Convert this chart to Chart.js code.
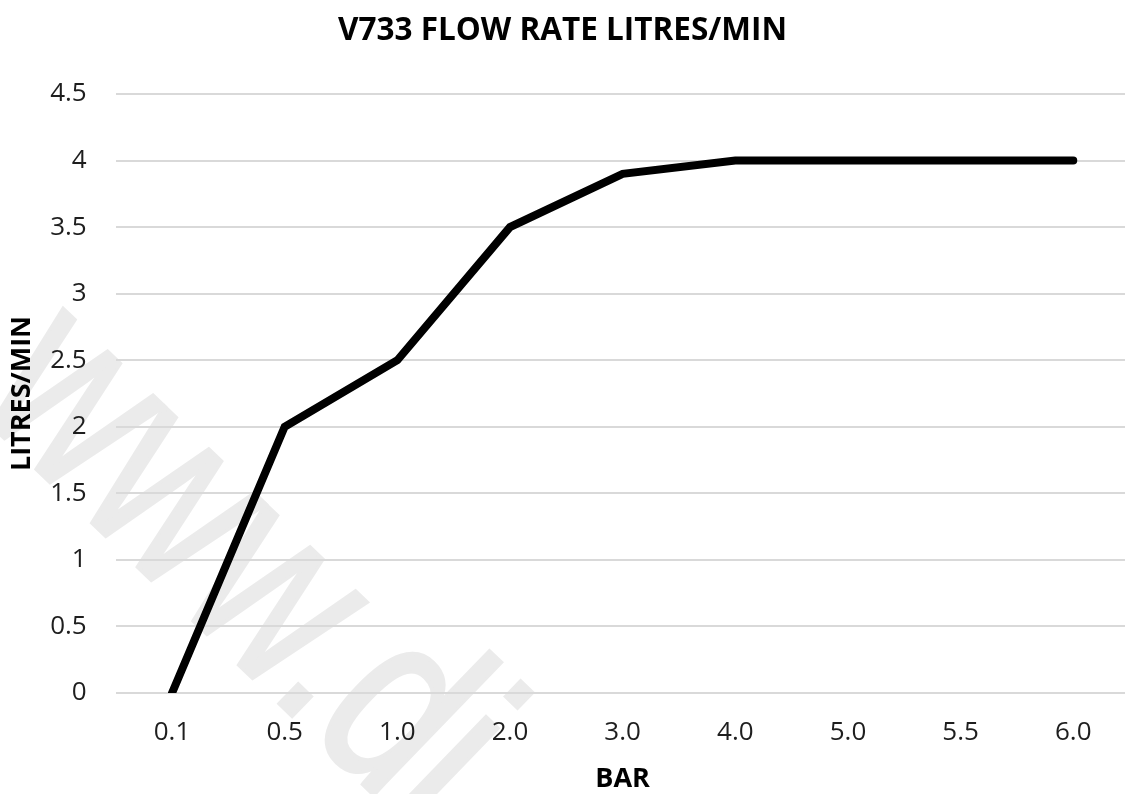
<!DOCTYPE html>
<html>
<head>
<meta charset="utf-8">
<script src="https://cdn.jsdelivr.net/npm/chart.js@4/dist/chart.umd.min.js"></script>
<style>
html,body{margin:0;padding:0;background:#fff;overflow:hidden;width:1125px;height:794px;}
#wrap{position:absolute;left:0;top:0;width:1140px;height:794px;}
</style>
</head>
<body>
<div id="wrap"><canvas id="c" width="1140" height="794"></canvas></div>
<script>
const categories = ['0.1','0.5','1.0','2.0','3.0','4.0','5.0','5.5','6.0'];
const flowValues = [0, 2, 2.5, 3.5, 3.9, 4, 4, 4, 4];
const chartTitle = 'V733 FLOW RATE LITRES/MIN';
const xTitle = 'BAR';
const yTitle = 'LITRES/MIN';
const watermarkText = 'www.di';

const FONT = "'Open Sans', 'Noto Sans', sans-serif";

const watermark = {
  id: 'watermark',
  beforeDraw(chart) {
    const ctx = chart.ctx;
    ctx.save();
    ctx.fillStyle = '#ebebeb';
    ctx.strokeStyle = '#ebebeb';
    ctx.lineWidth = 3;
    ctx.font = "195px 'Liberation Sans', Arial, sans-serif";
    ctx.translate(-30, 405);
    ctx.rotate(44 * Math.PI / 180);
    ctx.scale(1, 1.3);
    ctx.textBaseline = 'alphabetic';
    ctx.textAlign = 'left';
    ctx.fillText(watermarkText, 0, 0);
    ctx.strokeText(watermarkText, 0, 0);
    ctx.restore();
  }
};

const titleDraw = {
  id: 'titleDraw',
  afterDraw(chart) {
    const ctx = chart.ctx;
    ctx.save();
    ctx.fillStyle = '#000';
    ctx.font = "bold 31.5px " + FONT;
    ctx.textAlign = 'center';
    ctx.textBaseline = 'middle';
    ctx.fillText(chartTitle, 562.5, 31);
    ctx.restore();
  }
};

new Chart(document.getElementById('c'), {
  type: 'line',
  data: {
    labels: categories,
    datasets: [{
      data: flowValues,
      borderColor: '#000',
      borderWidth: 8,
      borderCapStyle: 'round',
      borderJoinStyle: 'miter',
      pointRadius: 0,
      tension: 0,
      fill: false
    }]
  },
  options: {
    responsive: false,
    animation: false,
    devicePixelRatio: 1,
    layout: { padding: { top: 94, right: 10.4, bottom: 0, left: 0 } },
    plugins: {
      legend: { display: false },
      tooltip: { enabled: false },
      title: { display: false }
    },
    scales: {
      x: {
        offset: true,
        grid: { display: false, drawTicks: false },
        border: { display: false },
        ticks: { color: '#1e1e1e', font: { family: FONT, size: 26, lineHeight: 1.2 }, padding: 24, maxRotation: 0, autoSkip: false },
        title: { display: true, text: xTitle, color: '#000', font: { family: FONT, size: 27, weight: 'bold', lineHeight: 1 }, padding: { top: 0, bottom: 1 } },
        afterFit(s) { s.height = 101; }
      },
      y: {
        min: 0, max: 4.5,
        grid: { color: '#d9d9d9', lineWidth: 2, drawTicks: false },
        border: { display: false },
        ticks: {
          stepSize: 0.5, color: '#1e1e1e', font: { family: FONT, size: 26 }, padding: 29,
          callback: (v) => String(parseFloat(Number(v).toFixed(1)))
        },
        title: { display: true, text: yTitle, color: '#000', font: { family: FONT, size: 27, weight: 'bold', lineHeight: 1 }, padding: { top: 9, bottom: 0 } },
        afterFit(s) { s.width = 115.7; }
      }
    }
  },
  plugins: [watermark, titleDraw]
});
</script>
</body>
</html>
